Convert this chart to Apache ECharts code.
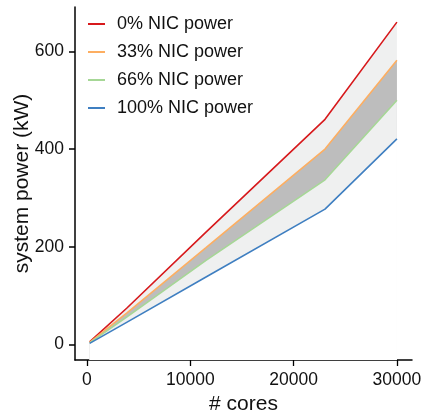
<!DOCTYPE html>
<html>
<head>
<meta charset="utf-8">
<script src="https://cdn.jsdelivr.net/npm/echarts@6/dist/echarts.min.js"></script>
<style>
  html, body { margin: 0; padding: 0; background: #fff; }
  #chart { width: 422px; height: 412px; }
</style>
</head>
<body>
<div id="chart"></div>
<script>
var cores = [256, 3840, 11520, 23040, 30000];
var nic0 = [5, 74, 230, 461, 660];
var nic33 = [4, 64, 198, 400, 582];
var nic66 = [3, 56, 172, 337, 500];
var nic100 = [2, 45, 138, 277, 421];
var xTicks = [0, 10000, 20000, 30000];
var yTicks = [0, 200, 400, 600];

var colors = ['#d7191c', '#fdae61', '#a6d796', '#3f7fc1'];
var font = 'Liberation Sans, Arial, sans-serif';

function pairs(ys) {
  return cores.map(function (c, i) { return [c, ys[i]]; });
}
// shading is painted down to the axis min, each one over the last
function fill(name, ys, color) {
  return {
    name: name, type: 'line', data: pairs(ys),
    symbol: 'none', silent: true, z: 1,
    lineStyle: { opacity: 0 },
    areaStyle: { color: color, opacity: 1, origin: 'start' }
  };
}
function line(name, ys, color) {
  return {
    name: name, type: 'line', data: pairs(ys),
    symbol: 'none', color: color, z: 3,
    lineStyle: { color: color, width: 1.6 }
  };
}

var chart = echarts.init(document.getElementById('chart'));
chart.setOption({
  animation: false,
  textStyle: { fontFamily: font },
  grid: { left: 75, right: 10, top: 7, bottom: 52, containLabel: false, outerBoundsMode: 'none' },
  legend: {
    data: ['0% NIC power', '33% NIC power', '66% NIC power', '100% NIC power'],
    orient: 'vertical', left: 83, top: 10,
    icon: 'rect', itemWidth: 17, itemHeight: 2, itemGap: 10,
    textStyle: { fontSize: 18, color: '#111', padding: [0, 0, 0, 7] }
  },
  xAxis: {
    type: 'value', min: -1160, max: 31460,
    name: '# cores', nameLocation: 'middle', nameGap: 34,
    nameTextStyle: { fontSize: 21, color: '#111' },
    axisLine: { show: true, onZero: false, lineStyle: { color: '#000', width: 1.5 } },
    axisTick: { show: true, length: 6, customValues: xTicks, lineStyle: { color: '#000', width: 1.3 } },
    axisLabel: { customValues: xTicks, fontSize: 17.5, color: '#111', margin: 11,
      formatter: function (v) { return String(v); } },
    splitLine: { show: false }
  },
  yAxis: {
    type: 'value', min: -32, max: 691,
    name: 'system power (kW)', nameLocation: 'middle', nameGap: 42, nameMoveOverlap: false,
    nameTextStyle: { fontSize: 21, color: '#111' },
    axisLine: { show: true, onZero: false, lineStyle: { color: '#000', width: 1.5 } },
    axisTick: { show: true, length: 6, customValues: yTicks, lineStyle: { color: '#000', width: 1.5 } },
    axisLabel: { customValues: yTicks, fontSize: 17.5, color: '#111', margin: 11 },
    splitLine: { show: false }
  },
  series: [
    fill('fill0', nic0, '#eff0f0'),
    fill('fill33', nic33, '#bdbdbd'),
    fill('fill66', nic66, '#eff0f0'),
    fill('fill100', nic100, '#ffffff'),
    line('0% NIC power', nic0, colors[0]),
    line('33% NIC power', nic33, colors[1]),
    line('66% NIC power', nic66, colors[2]),
    line('100% NIC power', nic100, colors[3])
  ]
});
</script>
</body>
</html>
